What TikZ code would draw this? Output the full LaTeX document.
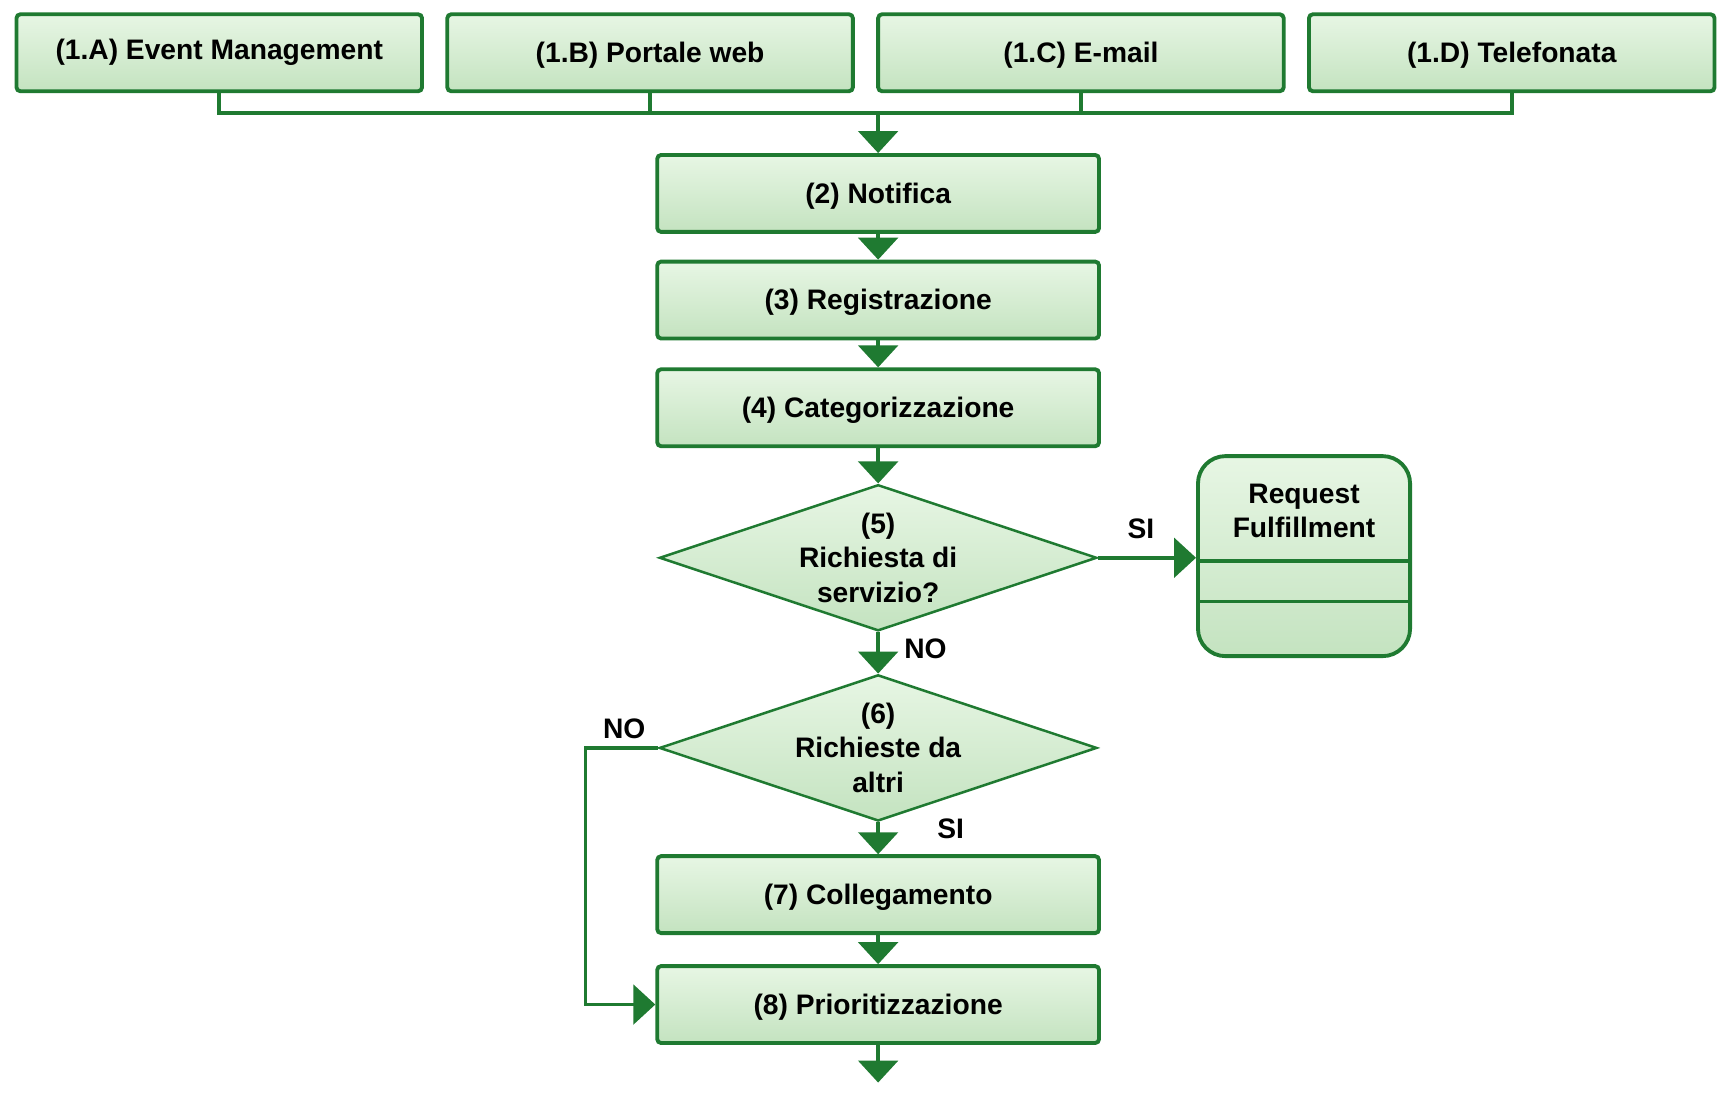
\documentclass[tikz,border=0pt]{standalone}
\usepackage{fontspec}
\setmainfont{Liberation Sans}
\usetikzlibrary{arrows.meta,shapes.geometric}
\definecolor{lineGreen}{RGB}{31,122,49}
\definecolor{fillTop}{RGB}{231,246,228}
\definecolor{fillBot}{RGB}{196,227,192}

\begin{document}
\begin{tikzpicture}[
	font=\bfseries\fontsize{14.6}{17.9}\selectfont,
	box/.style={draw=lineGreen, line width=2pt, rounded corners=2pt,
		top color=fillTop, bottom color=fillBot,
		minimum height=1.4cm, inner sep=0pt},
	low/.style={text height=1.1em, text depth=0.1em},
	dec/.style={diamond, draw=lineGreen, line width=1.3pt,
		top color=fillTop, bottom color=fillBot,
		minimum width=7.96cm, minimum height=2.66cm, inner sep=0pt},
	conn/.style={draw=lineGreen, line width=1.9pt},
	arr/.style={conn, -{Triangle[width=0.72cm,length=0.4cm]}}
]
	\useasboundingbox (0,0) rectangle (31.3,-20.02);

	% sources
	\node[box, minimum width=7.38cm] (srcA) at ( 3.99,-0.96) {(1.A) Event Management};
	\node[box, low, minimum width=7.38cm] (srcB) at (11.83,-0.96) {(1.B) Portale web};
	\node[box, low, minimum width=7.38cm] (srcC) at (19.67,-0.96) {(1.C) E-mail};
	\node[box, low, minimum width=7.38cm] (srcD) at (27.51,-0.96) {(1.D) Telefonata};

	% main chain
	\node[box, low, minimum width=8.04cm] (notif) at (15.98,-3.52) {(2) Notifica};
	\node[box, low, minimum width=8.04cm] (reg)   at (15.98,-5.46) {(3) Registrazione};
	\node[box, low, minimum width=8.04cm] (cat)   at (15.98,-7.42) {(4) Categorizzazione};

	% decisions
	\node[dec] (dServ) at (15.98,-10.15) {};
	\node[align=center] (dServT) at (dServ) {(5)\\Richiesta di\\servizio?};
	\node[dec] (dAltri) at (15.98,-13.61) {};
	\node[align=center] (dAltriT) at (dAltri) {(6)\\Richieste da\\altri};

	\node[box, low, minimum width=8.04cm] (coll) at (15.98,-16.28) {(7) Collegamento};
	\node[box, low, minimum width=8.04cm] (prio) at (15.98,-18.28) {(8) Prioritizzazione};

	% request fulfillment
	\node[box, rounded corners=0.5cm, minimum width=3.86cm, minimum height=3.64cm] (rf) at (23.73,-10.12) {};
	\draw[conn] ([yshift=-1.94cm]rf.north west) -- ([yshift=-1.94cm]rf.north east);
	\draw[conn] ([yshift=-2.68cm]rf.north west) -- ([yshift=-2.68cm]rf.north east);
	\node[align=center] (rfT) at ([yshift=-1.03cm]rf.north) {Request\\Fulfillment};

	% bus from sources
	\coordinate (bus) at (15.98,-2.06);
	\draw[conn] (srcA.south) |- (bus) -| (srcD.south);
	\draw[conn] (srcB.south) |- (bus);
	\draw[conn] (srcC.south) |- (bus);
	\draw[arr] (bus) -- (notif.north);

	% arrows
	\draw[arr] (notif) -- (reg);
	\draw[arr] (reg) -- (cat);
	\draw[arr] (cat) -- (dServ.north);
	\draw[arr] (dServ.east) -- (dServ.east -| rf.west);
	\draw[arr] (dServ.south) -- (dAltri.north);
	\draw[arr] (dAltri.south) -- (coll.north);
	\draw[arr] (dAltri.west) -- ++(-1.32,0) |- (prio.west);
	\draw[arr] (coll) -- (prio);
	\coordinate (out) at (15.98,-19.7);
	\draw[arr] (prio) -- (out);

	% labels
	\node at (20.76,-9.62)  {SI};
	\node at (16.84,-11.8)  {NO};
	\node at (11.36,-13.26) {NO};
	\node at (17.3,-15.08)  {SI};
\end{tikzpicture}
\end{document}
